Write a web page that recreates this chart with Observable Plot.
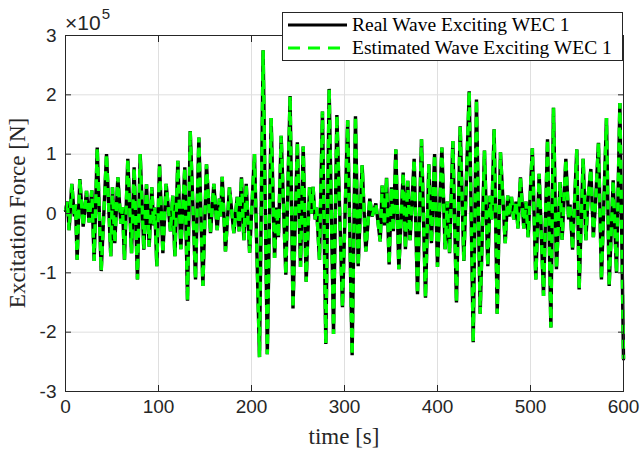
<!DOCTYPE html>
<html><head><meta charset="utf-8">
<script src="https://cdn.jsdelivr.net/npm/d3@7"></script>
<script src="https://cdn.jsdelivr.net/npm/@observablehq/plot@0.6"></script>
<style>
body{margin:0;background:#fff;}
#chart{position:relative;width:642px;height:450px;}
</style>
</head><body><div id="chart"></div>
<script>
// time in seconds
const time = [0,2,3.9,6.8,9.5,10.8,12.5,15.4,19,22.6,25.4,28.3,30.8,34.1,38.4,44.1,48.7,50.5,53,56.3,59.5,61.3,63.4,67,71,73.8,77.4,80.3,84.2,87.1,90,92.8,94.8,96,98.2,
101.1,104.7,108.2,112.9,115.3,117.6,120.8,124,128.3,131.2,134.1,139.8,143.4,147.7,151.6,155.9,159.5,163.1,165.5,166.8,168.5,172,176.3,181,184.6,186.8,189.2,191.8,194.3,198,
203.2,208.6,212.5,217,221.1,224.8,227,229,231.9,236.9,241.5,244.6,249.3,252.7,255.6,258.8,262.4,264.5,266.2,268.5,270,273.1,276.3,279.9,283.5,288.2,291.8,297.8,
303.4,308.2,311.8,314.7,319,322.9,327.2,329.7,333.7,338.4,340.5,343,345.2,348,350.5,352.5,355.2,358.4,363.1,365.5,368,370.5,374.9,378.5,382.8,387.1,390.7,393.5,396.9,400,
404.7,408.2,410.5,413,416.5,420.4,424.4,428.3,434.1,438.4,441.9,445.9,450.5,454.1,456.5,458.2,460.9,464.2,467.7,472.8,475.5,477,479.5,482,484.5,486.5,489.2,492.8,495,497.5,
502,505.7,509.3,514,518.3,521.9,524.7,527.9,531.9,534,538,541,542.5,545.2,549.8,552.3,556.6,559.5,562,564.9,567.6,570,573.1,576.3,581.7,584.6,588.9,592.5,596.1,600];
// excitation force, x10^5 N
const realForce = [0.05,0.2,-0.28,0.5,-0.05,0.15,-0.78,0.58,-0.22,0.38,-0.15,0.39,-0.8,1.11,-0.97,1.0,-0.72,0.44,-0.5,0.61,-0.17,0.11,-0.78,0.92,-0.67,0.78,-1.11,1.0,-0.61,0.49,-0.56,0.44,-0.2,0.1,-0.89,
0.83,-0.67,0.5,-0.3,0.3,-0.72,0.89,-0.6,0.78,-1.47,1.39,-1.11,1.28,-1.22,0.83,-0.33,0.5,-0.28,0.25,-0.05,0.62,-0.64,0.44,-0.33,0.28,-0.3,0.61,-0.45,0.5,-0.66,
1.0,-2.42,2.75,-2.37,1.61,-0.75,0.1,-0.4,1.31,-1.03,1.98,-1.6,1.2,-0.9,1.13,-1.15,0.44,0.0,0.45,-0.1,0.1,-0.78,1.72,-2.2,2.1,-2.03,1.66,-1.58,
1.57,-2.39,1.64,-0.89,0.81,-0.64,0.25,-0.05,0.17,-0.47,0.47,-0.2,0.6,-0.86,0.44,-0.3,1.08,-0.94,0.69,-0.6,0.55,-0.45,0.92,-1.36,1.25,-1.42,0.83,-0.5,1.0,-0.9,
1.11,-0.6,0.2,-0.67,1.22,-1.5,1.47,-0.8,2.06,-2.17,1.92,-1.69,1.06,-0.89,0.3,-0.1,1.42,-1.69,1.03,-0.5,0.3,-0.05,0.28,-0.1,0.2,-0.25,0.61,-0.25,0.2,-0.4,
1.1,-1.11,0.67,-1.39,1.25,-1.92,1.78,-0.94,0.53,-0.44,0.92,-0.1,0.15,-0.61,1.08,-1.28,0.92,-0.45,0.3,0.75,-0.4,0.2,1.19,-1.11,1.61,-1.22,0.56,-1.0,1.86,-2.45];
const estimatedForce = [0.05,0.2,-0.28,0.5,-0.05,0.15,-0.78,0.58,-0.22,0.38,-0.15,0.39,-0.8,1.11,-0.97,1.0,-0.72,0.44,-0.5,0.61,-0.17,0.11,-0.78,0.92,-0.67,0.78,-1.11,1.0,-0.61,0.49,-0.56,0.44,-0.2,0.1,-0.89,
0.83,-0.67,0.5,-0.3,0.3,-0.72,0.89,-0.6,0.78,-1.47,1.39,-1.11,1.28,-1.22,0.83,-0.33,0.5,-0.28,0.25,-0.05,0.62,-0.64,0.44,-0.33,0.28,-0.3,0.61,-0.45,0.5,-0.66,
1.0,-2.42,2.75,-2.37,1.61,-0.75,0.1,-0.4,1.31,-1.03,1.98,-1.6,1.2,-0.9,1.13,-1.15,0.44,0.0,0.45,-0.1,0.1,-0.78,1.72,-2.2,2.1,-2.03,1.66,-1.58,
1.57,-2.39,1.64,-0.89,0.81,-0.64,0.25,-0.05,0.17,-0.47,0.47,-0.2,0.6,-0.86,0.44,-0.3,1.08,-0.94,0.69,-0.6,0.55,-0.45,0.92,-1.36,1.25,-1.42,0.83,-0.5,1.0,-0.9,
1.11,-0.6,0.2,-0.67,1.22,-1.5,1.47,-0.8,2.06,-2.17,1.92,-1.69,1.06,-0.89,0.3,-0.1,1.42,-1.69,1.03,-0.5,0.3,-0.05,0.28,-0.1,0.2,-0.25,0.61,-0.25,0.2,-0.4,
1.1,-1.11,0.67,-1.39,1.25,-1.92,1.78,-0.94,0.53,-0.44,0.92,-0.1,0.15,-0.61,1.08,-1.28,0.92,-0.45,0.3,0.75,-0.4,0.2,1.19,-1.11,1.61,-1.22,0.56,-1.0,1.86,-2.45];

const xTicks = [0,100,200,300,400,500,600];
const yTicks = [-3,-2,-1,0,1,2,3];
const seriesNames = ["Real Wave Exciting WEC 1","Estimated Wave Exciting WEC 1"];
const xLabel = "time [s]";
const yLabel = "Excitation Force [N]";
const exponent = "5";

const real = time.map((t,i)=>({t, v: realForce[i]}));
const est = time.map((t,i)=>({t, v: estimatedForce[i]}));

const W = 642, H = 450, ML = 65, MR = 19, MT = 35, MB = 59;
const grid = "#dfdfdf", axisColor = "#262626";

const svg = Plot.plot({
  width: W, height: H, marginLeft: ML, marginRight: MR, marginTop: MT, marginBottom: MB,
  style: {background: "#fff", fontFamily: "'Liberation Sans', Arial, sans-serif", fontSize: "19px", color: axisColor},
  x: {domain: [0, 600], label: null},
  y: {domain: [-3, 3], label: null},
  marks: [
    Plot.gridX(xTicks, {stroke: grid, strokeOpacity: 1}),
    Plot.gridY(yTicks, {stroke: grid, strokeOpacity: 1}),
    Plot.line(real, {x: "t", y: "v", stroke: "#000", strokeWidth: 3.4, strokeLinejoin: "miter", strokeMiterlimit: 2}),
    Plot.line(est, {x: "t", y: "v", stroke: "#00ff00", strokeWidth: 3.4, strokeDasharray: "9,6", strokeLinecap: "butt", strokeLinejoin: "miter", strokeMiterlimit: 2}),
    Plot.frame({stroke: axisColor, strokeWidth: 1}),
    Plot.axisX(xTicks, {anchor: "bottom", tickSize: 0, tickPadding: 8, tickFormat: d => String(d)}),
    Plot.axisY(yTicks, {anchor: "left", tickSize: 0, tickPadding: 9, tickFormat: d => String(d)}),
    Plot.axisX(xTicks, {anchor: "bottom", tickSize: -6, tickFormat: () => ""}),
    Plot.axisX(xTicks, {anchor: "top", tickSize: -6, tickFormat: () => ""}),
    Plot.axisY(yTicks, {anchor: "left", tickSize: -6, tickFormat: () => ""}),
    Plot.axisY(yTicks, {anchor: "right", tickSize: -6, tickFormat: () => ""})
  ]
});
document.getElementById("chart").appendChild(svg);

const s = d3.select(svg);
const serif = "'Liberation Serif', 'Times New Roman', serif";
// exponent label
const ex = s.append("text").attr("x", 65).attr("y", 30).attr("fill", axisColor).attr("text-anchor", "start")
  .style("font-family", "'Liberation Sans', Arial, sans-serif").style("font-size", "21px");
ex.append("tspan").text("\u00d710");
ex.append("tspan").attr("dy", -11).attr("dx", 1).style("font-size", "15px").text(exponent);
// axis labels
s.append("text").attr("x", ML + (W - ML - MR) / 2).attr("y", 444).attr("text-anchor", "middle")
  .attr("fill", axisColor).style("font-family", serif).style("font-size", "23px").text(xLabel);
s.append("text").attr("transform", `translate(25,${MT + (H - MT - MB) / 2}) rotate(-90)`).attr("text-anchor", "middle")
  .attr("fill", axisColor).style("font-family", serif).style("font-size", "23px").text(yLabel);
// legend
const lg = s.append("g").attr("text-anchor", "start");
lg.append("rect").attr("x", 282.5).attr("y", 12.5).attr("width", 340).attr("height", 48)
  .attr("fill", "#fff").attr("stroke", axisColor).attr("stroke-width", 1);
lg.append("line").attr("x1", 288).attr("x2", 347).attr("y1", 25).attr("y2", 25).attr("stroke", "#000").attr("stroke-width", 3);
lg.append("line").attr("x1", 288).attr("x2", 347).attr("y1", 48).attr("y2", 48).attr("stroke", "#00ff00").attr("stroke-width", 3).attr("stroke-dasharray", "12,8");
seriesNames.forEach((n, i) => {
  lg.append("text").attr("x", 352).attr("y", 31 + i * 23).attr("fill", "#000").attr("text-anchor", "start")
    .style("font-family", serif).style("font-size", "19.5px").text(n);
});
</script>
</body></html>
